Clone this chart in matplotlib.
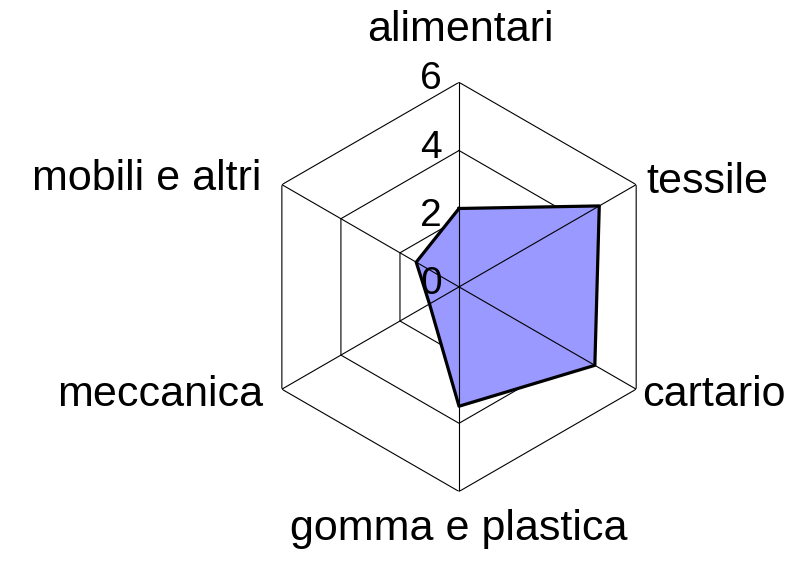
import numpy as np
import matplotlib.pyplot as plt
from matplotlib.transforms import offset_copy

plt.rcParams['font.family'] = ['Liberation Sans', 'DejaVu Sans']

categories = ['alimentari', 'tessile', 'cartario', 'gomma e plastica',
              'meccanica', 'mobili e altri']
values = [2.3, 4.75, 4.6, 3.5, 1.0, 1.45]
levels = [0, 2, 4, 6]
tick_labels = ['0', '2', '4', '6']

n = len(categories)
theta = np.arange(n) * 2 * np.pi / n

fig = plt.figure(figsize=(8.11, 5.62), dpi=100)
ax = fig.add_axes([0.3137, 0.1255, 0.5046, 0.728], projection='polar')
ax.set_theta_offset(np.pi / 2)
ax.set_theta_direction(-1)
ax.set_ylim(0, 6)
ax.axis('off')

# hexagon rings sit under the fill, spokes on top of it
th_closed = np.append(theta, theta[0])
for lv in levels[1:]:
    ax.plot(th_closed, [lv] * (n + 1), color='black', lw=0.8, zorder=1)
for t in theta:
    ax.plot([t, t], [0, 6], color='black', lw=0.8, zorder=3)

# data polygon
vals_closed = np.append(values, values[0])
ax.fill(th_closed, vals_closed, color='#9999ff', zorder=2)
ax.plot(th_closed, vals_closed, color='black', lw=2.3, zorder=4)

# value labels along the top spoke
for lv, lab in zip(levels, tick_labels):
    tr = offset_copy(ax.transData, fig=fig, x=-17, y=3, units='dots')
    ax.text(0, lv, lab, transform=tr, ha='right', va='center',
            fontsize=28, zorder=5)

# category labels
label_pos = [(1, 41, 'center'), (10, -8, 'left'), (6, -17, 'left'),
             (0, -49, 'center'), (-19, -17, 'right'), (-20, -5, 'right')]
for t, cat, (dx, dy, ha) in zip(theta, categories, label_pos):
    tr = offset_copy(ax.transData, fig=fig, x=dx, y=dy, units='dots')
    ax.text(t, 6, cat, transform=tr, ha=ha, va='baseline', fontsize=31,
            clip_on=False)

fig.savefig('out.png', dpi=100)
